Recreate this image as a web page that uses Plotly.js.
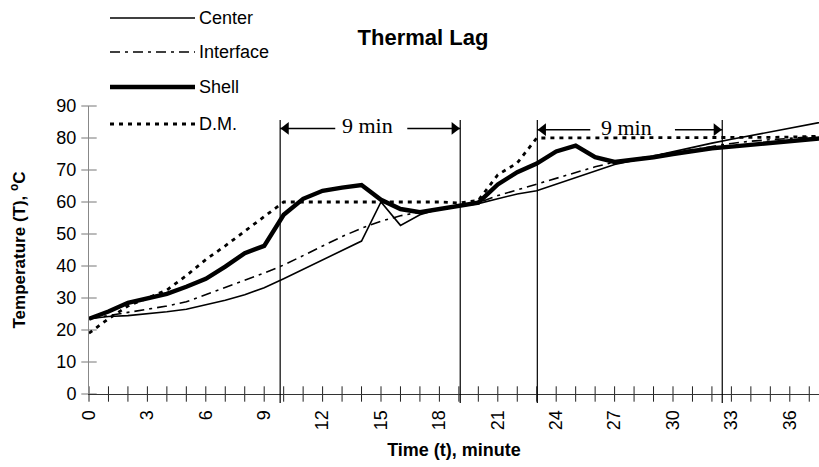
<!DOCTYPE html>
<html>
<head>
<meta charset="utf-8">
<script src="https://cdn.plot.ly/plotly-3.0.1.min.js"></script>
<style>
  html, body { margin: 0; padding: 0; background: #fff; }
  #chart { width: 819px; height: 467px; }
</style>
</head>
<body>
<div id="chart"></div>
<script>
// ---- data (minutes, °C) ----
const timeMin = [0,1,2,3,4,5,6,7,8,9,10,11,12,13,14,15,16,17,18,19,20,21,22,23,24,25,26,27,28,29,30,31,32,33,34,35,36,37,38];
const center    = [23.5,24.2,24.5,25,25.7,26.5,27.8,29.3,31,33.2,36,39,42,45,47.8,60,52.7,56,57.8,58.6,59.5,61,62.5,63.5,65.6,67.7,69.8,71.7,73,74.4,75.7,77,78.4,79.6,80.8,81.9,83.1,84.2,85.4];
const interfaceT= [23.5,24.5,25.6,26.5,27.5,28.8,31,33.2,35.5,37.8,40.3,43.3,46.4,49.2,51.8,54,55.7,56.8,58,58.8,59.8,62,63.8,65.8,67.5,69.3,71,72.5,73.5,74.5,75.5,76.5,77.5,78.3,79,79.5,80,80.4,80.8];
const shell     = [23.5,25.8,28.5,29.8,31.3,33.5,36,39.8,44,46.3,56,61,63.5,64.5,65.3,60.7,57.8,56.8,57.8,58.8,59.8,65.5,69.3,72,75.8,77.6,74,72.5,73.2,74,75,76,76.8,77.3,77.9,78.5,79,79.6,80.1];
const dm        = [19,23.5,27.5,30,32.5,37,42,46.3,50.8,55.4,60,60,60,60,60,60,60,60,60,59.7,60.5,68.5,72.2,80,80,80,80,80,80,80,80,80,80,80,80,80.2,80.3,80.5,80.6];
const seriesNames = ["Center", "Interface", "Shell", "D.M."];

// lag markers (minutes) and label
const lagStart = [9.82, 23.03];
const lagEnd   = [19.07, 32.53];
const lagLabel = "9 min";

// tick labels
const xTickVals = timeMin.slice(0, 38);
const xTickText = xTickVals.map(v => (v % 3 === 0 ? String(v) : ""));
const yTickVals = [0,10,20,30,40,50,60,70,80,90];

// ---- layout geometry (pixels) ----
const W = 819, H = 467;
const L = 89, R = 0, T = 106, B = 73;
const pw = W - L - R, ph = H - T - B;
const px2paperX = p => (p - L) / pw;
const px2paperY = p => (H - B - p) / ph;

const FONT = "Liberation Sans, Arial, sans-serif";
const SERIF = "Liberation Serif, Times New Roman, serif";

const styles = [
  {color: "#000", width: 1.6, dash: "solid"},
  {color: "#000", width: 1.6, dash: "10px,5px,3px,5px"},
  {color: "#000", width: 4.4, dash: "solid"},
  {color: "#000", width: 2.8, dash: "4px,5px"}
];
const allSeries = [center, interfaceT, shell, dm];

const traces = [];

// crossing tick marks on both axis lines (the ticks straddle the axes)
traces.push({type: "scatter", mode: "markers", x: xTickVals, y: xTickVals.map(() => 0),
  showlegend: false, hoverinfo: "skip", cliponaxis: false,
  marker: {symbol: "line-ns", size: 11, line: {color: "#222", width: 1}}});
traces.push({type: "scatter", mode: "markers", x: yTickVals.map(() => 0), y: yTickVals,
  showlegend: false, hoverinfo: "skip", cliponaxis: false,
  marker: {symbol: "line-ew", size: 11, line: {color: "#777", width: 1}}});

allSeries.forEach((ys, i) => traces.push({
  type: "scatter", mode: "lines",
  x: timeMin, y: ys, name: seriesNames[i],
  line: styles[i], showlegend: false, hoverinfo: "skip"
}));

const shapes = [];
const annotations = [];

// vertical lag lines
[...lagStart, ...lagEnd].forEach(t => {
  shapes.push({type: "line", xref: "x", yref: "paper", x0: t, x1: t,
    y0: px2paperY(403), y1: px2paperY(120), line: {color: "#000", width: 1.2}});
});

// arrows (shaft shapes + triangle heads) + labels
const arrowY = [83, 82.6];
const labelCenter = [14.33, 27.63];
const tailLeft = [12.65, 25.75];
const tailRight = [16.35, 30.1];
const headX = [], headY = [], headSym = [];
for (let k = 0; k < 2; k++) {
  shapes.push({type: "line", xref: "x", yref: "y", x0: lagStart[k], x1: tailLeft[k],
    y0: arrowY[k], y1: arrowY[k], line: {color: "#000", width: 1.5}});
  shapes.push({type: "line", xref: "x", yref: "y", x0: tailRight[k], x1: lagEnd[k],
    y0: arrowY[k], y1: arrowY[k], line: {color: "#000", width: 1.5}});
  headX.push(lagStart[k] + 0.3, lagEnd[k] - 0.3);
  headY.push(arrowY[k], arrowY[k]);
  headSym.push("triangle-left", "triangle-right");
  annotations.push({x: labelCenter[k], y: arrowY[k] + 0.8, xref: "x", yref: "y",
    text: lagLabel, showarrow: false, font: {family: SERIF, size: 22, color: "#000"},
    xanchor: "center", yanchor: "middle"});
}
traces.push({type: "scatter", mode: "markers", x: headX, y: headY, showlegend: false, hoverinfo: "skip",
  marker: {symbol: headSym, size: 11, color: "#000", line: {width: 0}}, cliponaxis: false});

// manual legend
const legY = [18, 52, 87, 124];
const legX0 = 110, legX1 = 195, legTextX = 197;
seriesNames.forEach((nm, i) => {
  shapes.push({type: "line", xref: "paper", yref: "paper",
    x0: px2paperX(legX0), x1: px2paperX(legX1), y0: px2paperY(legY[i]), y1: px2paperY(legY[i]),
    line: styles[i]});
  annotations.push({xref: "paper", yref: "paper", x: px2paperX(legTextX), y: px2paperY(legY[i]),
    text: nm, showarrow: false, xanchor: "left", yanchor: "middle",
    font: {family: FONT, size: 18, color: "#000"}});
});

const layout = {
  width: W, height: H,
  margin: {l: L, r: R, t: T, b: B, pad: 0},
  paper_bgcolor: "#fff", plot_bgcolor: "rgba(0,0,0,0)",
  showlegend: false,
  title: {text: "<b>Thermal Lag</b>", font: {family: FONT, size: 22, color: "#000"},
    xref: "paper", x: px2paperX(423), xanchor: "center",
    yref: "container", y: 1 - 37 / H, yanchor: "middle"},
  xaxis: {
    range: [0, 37.5], showgrid: false, zeroline: false,
    showline: true, linecolor: "#333", linewidth: 1,
    tickmode: "array", tickvals: xTickVals, ticktext: xTickText,
    ticks: "", ticklabelstandoff: 8,
    tickangle: -90, tickfont: {family: FONT, size: 18, color: "#000"},
    title: {text: "<b>Time (t), minute</b>", font: {family: FONT, size: 18, color: "#000"}, standoff: 14},
    automargin: false, fixedrange: true
  },
  yaxis: {
    range: [0, 90], showgrid: false, zeroline: false,
    showline: true, linecolor: "#888", linewidth: 1,
    tickmode: "array", tickvals: yTickVals,
    ticks: "", ticklabelstandoff: 8,
    tickfont: {family: FONT, size: 18, color: "#000"},
    title: {text: "<b>Temperature (T), <sup>o</sup>C</b>", font: {family: FONT, size: 17, color: "#000"}, standoff: 26},
    automargin: false, fixedrange: true
  },
  shapes: shapes,
  annotations: annotations
};

Plotly.newPlot("chart", traces, layout, {staticPlot: true, displayModeBar: false});
</script>
</body>
</html>
